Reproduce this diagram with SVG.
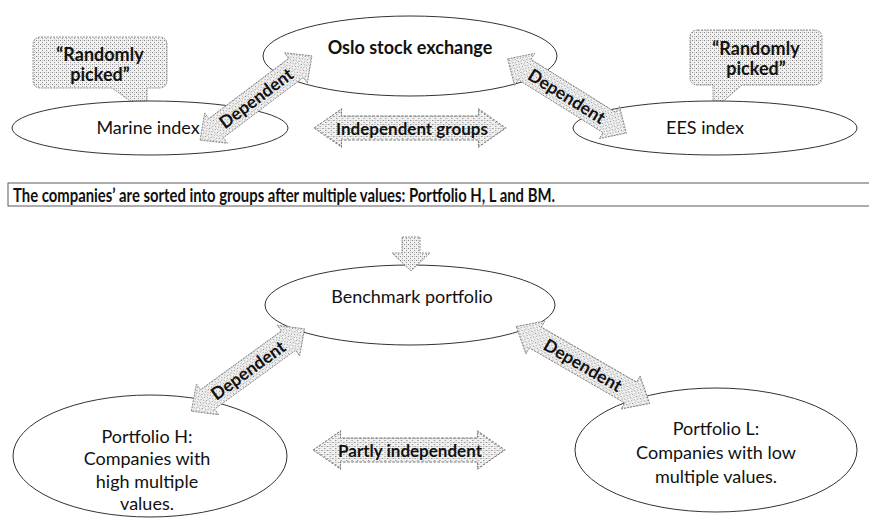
<svg xmlns="http://www.w3.org/2000/svg" width="869" height="519" viewBox="0 0 869 519">
<defs>
<pattern id="dots" width="4" height="4" patternUnits="userSpaceOnUse">
<rect width="4" height="4" fill="#f1f1f1"/>
<rect x="0" y="0" width="1" height="1" fill="#888"/>
<rect x="2" y="2" width="1" height="1" fill="#959595"/>
<rect x="2" y="0" width="1" height="1" fill="#c0c0c0"/>
</pattern>
<path id="dbl" d="M-70,0 L-50,-19 L-50,-12 L50,-12 L50,-19 L70,0 L50,19 L50,12 L-50,12 L-50,19 Z"/>
</defs>
<style>
.node{fill:#fff;stroke:#333;stroke-width:1}
.arrow{fill:url(#dots);stroke:#777;stroke-width:0.8;stroke-dasharray:2 1}
.t{font-family:Lato,"Open Sans",sans-serif;font-size:18px;fill:#111;text-anchor:middle;dominant-baseline:central}
.b{font-weight:bold}
.lab{font-size:17px;font-weight:bold}
.dep{font-size:17.5px;font-weight:bold}
.call{fill:url(#dots);stroke:#777;stroke-width:0.8;stroke-dasharray:2 1}
</style>
<rect width="869" height="519" fill="#fff"/>

<g id="callout-left">
<path class="call" d="M41,37 H159 Q167,37 167,45 V80 Q167,88 159,88 H147 V113 L112,88 H41 Q33,88 33,80 V45 Q33,37 41,37 Z"/>
<text class="t b" x="100" y="54" font-size="17">“Randomly</text>
<text class="t b" x="100" y="74" font-size="17">picked”</text>
</g>
<g id="callout-right">
<path class="call" d="M698,30 H814 Q822,30 822,38 V77 Q822,85 814,85 H742 L713,110 V85 H698 Q690,85 690,77 V38 Q690,30 698,30 Z"/>
<text class="t b" x="756" y="48" font-size="17">“Randomly</text>
<text class="t b" x="756" y="68" font-size="17">picked”</text>
</g>

<g id="oslo">
<ellipse class="node" cx="410" cy="56" rx="147" ry="40"/>
<text class="t b" x="410" y="47" font-size="18.5">Oslo stock exchange</text>
</g>
<g id="marine">
<ellipse class="node" cx="150" cy="128" rx="138" ry="27"/>
<text class="t" x="148" y="127">Marine index</text>
</g>
<g id="ees">
<ellipse class="node" cx="715" cy="128" rx="142" ry="27"/>
<text class="t" x="705" y="127">EES index</text>
</g>

<g id="sort-box">
<rect x="8" y="183" width="870" height="23" fill="#fff" stroke="#333" stroke-width="0.8"/>
<text class="t b" x="13" y="195" style="text-anchor:start" font-size="14.5" textLength="542" lengthAdjust="spacingAndGlyphs">The companies’ are sorted into groups after multiple values: Portfolio H, L and BM.</text>
</g>

<g id="benchmark">
<ellipse class="node" cx="410" cy="305" rx="145" ry="40"/>
<text class="t" x="412" y="296">Benchmark portfolio</text>
</g>
<g id="portfolio-h">
<ellipse class="node" cx="150" cy="456" rx="137" ry="61"/>
<text class="t" x="147" y="436">Portfolio H:</text>
<text class="t" x="147" y="458">Companies with</text>
<text class="t" x="147" y="481">high multiple</text>
<text class="t" x="147" y="503">values.</text>
</g>
<g id="portfolio-l">
<ellipse class="node" cx="716" cy="450" rx="141" ry="62"/>
<text class="t" x="716" y="428">Portfolio L:</text>
<text class="t" x="716" y="452">Companies with low</text>
<text class="t" x="716" y="476">multiple values.</text>
</g>

<g id="connectors">
<g transform="translate(256,98) rotate(-37)">
<use href="#dbl" class="arrow"/>
<text class="t dep" x="0" y="0">Dependent</text>
</g>
<g transform="translate(567,96) rotate(32)">
<use href="#dbl" class="arrow"/>
<text class="t dep" x="0" y="0">Dependent</text>
</g>
<g transform="translate(410,128) scale(1.37,1)">
<use href="#dbl" class="arrow"/>
</g>
<text class="t lab" x="412" y="128">Independent groups</text>
<path class="arrow" d="M402,237 H420 V253 H430 L411,271 L392,253 H402 Z"/>
<g transform="translate(248,370) rotate(-36)">
<use href="#dbl" class="arrow"/>
<text class="t dep" x="0" y="0">Dependent</text>
</g>
<g transform="translate(583,365) rotate(30)">
<use href="#dbl" class="arrow" transform="scale(1.1,1)"/>
<text class="t dep" x="0" y="0">Dependent</text>
</g>
<g transform="translate(409,450) scale(1.37,1)">
<use href="#dbl" class="arrow"/>
</g>
<text class="t lab" x="410" y="450">Partly independent</text>
</g>
</svg>
